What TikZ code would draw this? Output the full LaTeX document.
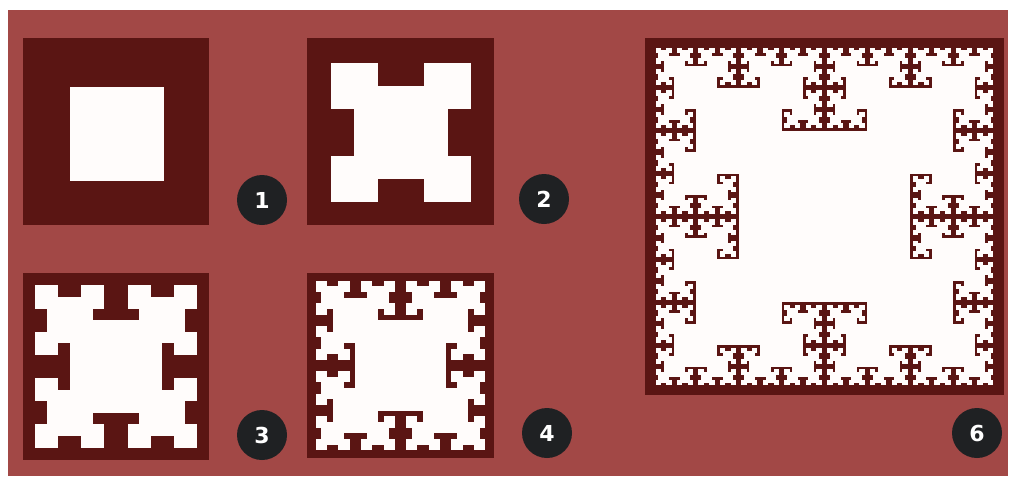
\documentclass[tikz,border=0pt]{standalone}
\usepackage{fontspec}
\newfontfamily\badgefont{DejaVu Sans}
\definecolor{bgred}{HTML}{A24846}
\definecolor{darkred}{HTML}{5A1513}
\definecolor{fwhite}{HTML}{FFFCFB}
\definecolor{badgeblk}{HTML}{1F2123}
\tikzset{
  panel/.style={fill=darkred},
  fw/.style={fill=fwhite},
  badge/.style={circle, fill=badgeblk, minimum size=50pt, inner sep=0pt,
    text=white, font=\badgefont\bfseries\fontsize{22}{22}\selectfont},
}
% T-square: centre x, centre y, half side, levels
\newcommand\tsquare[4]{%
  \fill[fw] ({#1-#3},{#2-#3}) rectangle ({#1+#3},{#2+#3});%
  \ifnum#4>1
    \begingroup
    \pgfmathsetmacro\tsh{#3/2}%
    \pgfmathtruncatemacro\tsl{#4-1}%
    \pgfmathsetmacro\tsxa{#1-#3}\pgfmathsetmacro\tsxb{#1+#3}%
    \pgfmathsetmacro\tsya{#2-#3}\pgfmathsetmacro\tsyb{#2+#3}%
    \edef\tsnext{%
      \noexpand\tsquare{\tsxa}{\tsya}{\tsh}{\tsl}%
      \noexpand\tsquare{\tsxb}{\tsya}{\tsh}{\tsl}%
      \noexpand\tsquare{\tsxa}{\tsyb}{\tsh}{\tsl}%
      \noexpand\tsquare{\tsxb}{\tsyb}{\tsh}{\tsl}}%
    \tsnext
    \endgroup
  \fi}
\begin{document}
\begin{tikzpicture}[x=1pt,y=-1pt]
\useasboundingbox (0,0) rectangle (1011,479);
\fill[white] (0,0) rectangle (1011,479);
\fill[bgred] (8,10) rectangle (1008,476);
% panel 1
\fill[panel] (23,38) rectangle (209,225);
\tsquare{117}{133.5}{47}{1}
% panel 2
\fill[panel] (307,38) rectangle (494,225);
\tsquare{401}{132.5}{46.6}{2}
% panel 3
\fill[panel] (23,273) rectangle (209,460);
\tsquare{116}{366.5}{46.3}{3}
% panel 4
\fill[panel] (307,273) rectangle (494,458);
\tsquare{400.5}{365.5}{45.2}{4}
% panel 6
\fill[panel] (645,38) rectangle (1004,395);
\tsquare{824.5}{216.5}{85.8}{6}
% badges
\node[badge] (b1) at (262,200) {1};
\node[badge] (b2) at (544,199) {2};
\node[badge] (b3) at (262,435) {3};
\node[badge] (b4) at (547,433) {4};
\node[badge] (b6) at (977,433) {6};
\end{tikzpicture}
\end{document}
